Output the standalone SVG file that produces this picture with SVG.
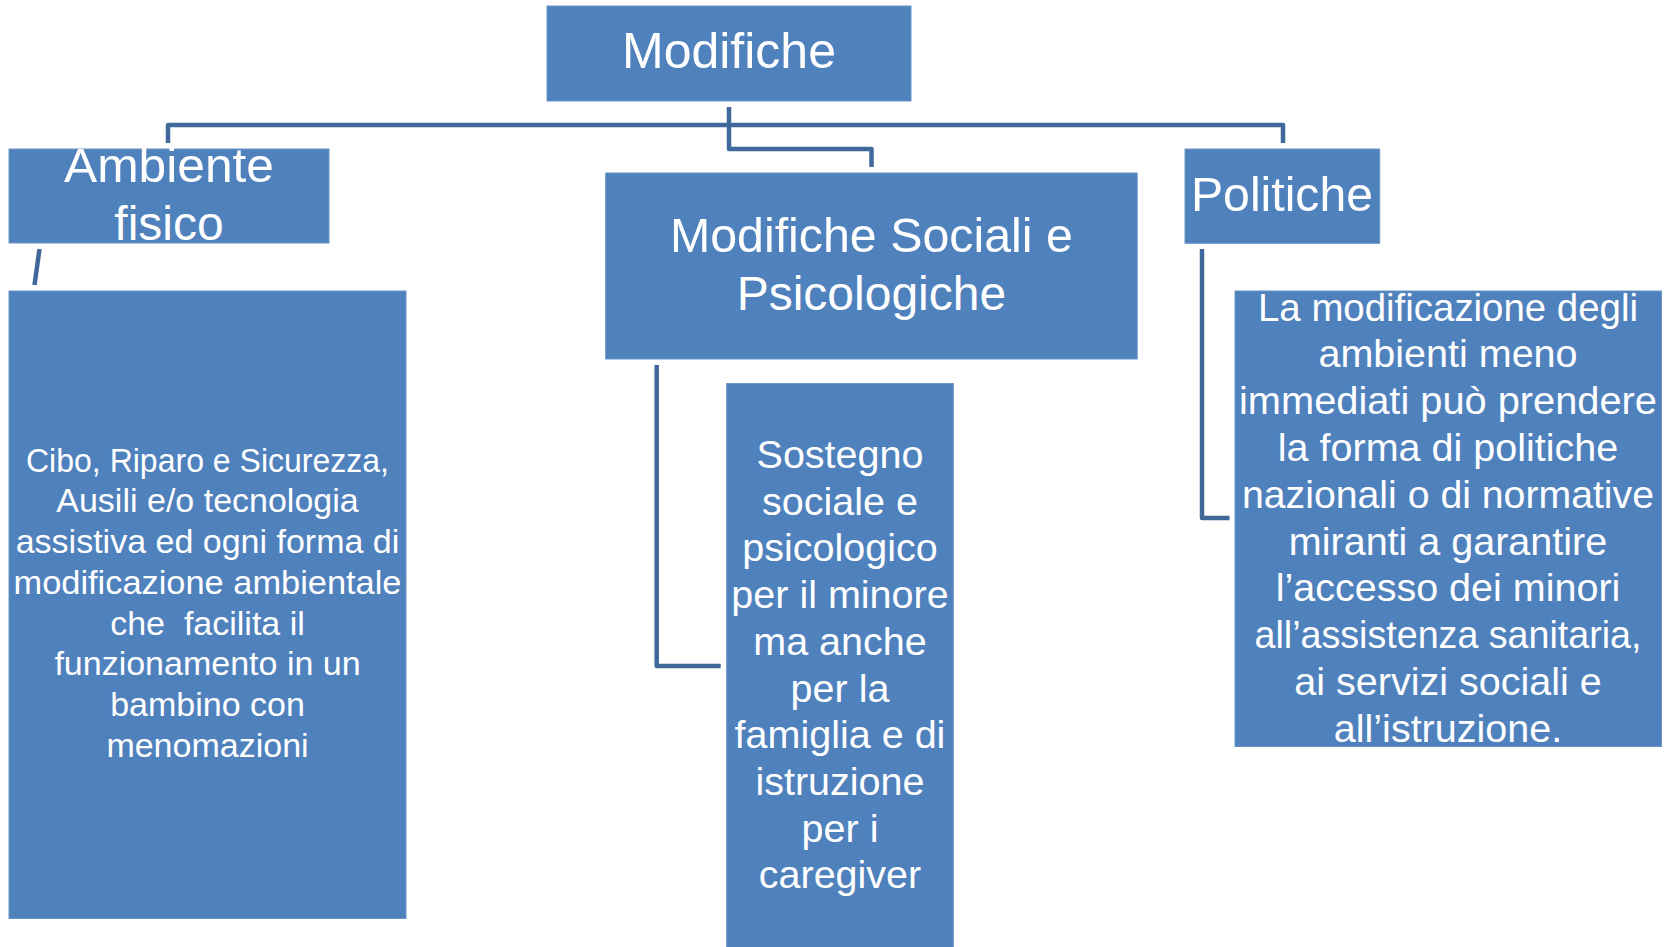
<svg xmlns="http://www.w3.org/2000/svg" width="1669" height="947" viewBox="0 0 1669 947">
<style>
.box{fill:#4F81BD;stroke:#6B95C8;stroke-width:1}
.t{fill:#FFFFFF;font-family:"Liberation Sans",Arial,sans-serif;text-anchor:middle}
.h{font-size:48px}
.b1{font-size:34px}
.b2{font-size:39.5px}
.c{fill:none;stroke:#40699B;stroke-width:4.5;stroke-linejoin:round}
</style>
<rect width="1669" height="947" fill="#FFFFFF"/>
<g id="connectors">
<path class="c" d="M168,143 V125 H1283 V143"/>
<path class="c" d="M729,107 V149 H871.5 V167"/>
<path class="c" d="M39.5,249 L34.5,285"/>
<path class="c" d="M656.7,365 V666 H720.7"/>
<path class="c" d="M1202,249 V518 H1229.5"/>
</g>
<g id="modifiche">
<rect class="box" x="547" y="6" width="364" height="95"/>
<text class="t" x="729" y="68" style="font-size:50px">Modifiche</text>
</g>
<g id="ambiente-fisico">
<rect class="box" x="9" y="149" width="320" height="94"/>
<text class="t h" x="169" y="182" textLength="210" lengthAdjust="spacingAndGlyphs">Ambiente</text>
<text class="t h" x="169" y="240">fisico</text>
</g>
<g id="modifiche-sociali">
<rect class="box" x="605.7" y="173" width="531.5" height="186"/>
<text class="t h" x="871.4" y="252" textLength="403" lengthAdjust="spacingAndGlyphs">Modifiche Sociali e</text>
<text class="t h" x="871.4" y="310">Psicologiche</text>
</g>
<g id="politiche">
<rect class="box" x="1185" y="149" width="194.7" height="94.3"/>
<text class="t h" x="1282" y="211" textLength="182" lengthAdjust="spacingAndGlyphs">Politiche</text>
</g>
<g id="ambiente-dettaglio">
<rect class="box" x="9" y="291" width="397" height="627.5"/>
<text class="t b1" x="207.5" y="471.7" textLength="363" lengthAdjust="spacingAndGlyphs">Cibo, Riparo e Sicurezza,</text>
<text class="t b1" x="207.5" y="512.4">Ausili e/o tecnologia</text>
<text class="t b1" x="207.5" y="553.1">assistiva ed ogni forma di</text>
<text class="t b1" x="207.5" y="593.8" textLength="388" lengthAdjust="spacingAndGlyphs">modificazione ambientale</text>
<text class="t b1" x="207.5" y="634.5" xml:space="preserve">che  facilita il</text>
<text class="t b1" x="207.5" y="675.2">funzionamento in un</text>
<text class="t b1" x="207.5" y="715.9">bambino con</text>
<text class="t b1" x="207.5" y="756.6">menomazioni</text>
</g>
<g id="sostegno">
<rect class="box" x="726.7" y="383.5" width="226.6" height="570"/>
<text class="t b2" x="840" y="468">Sostegno</text>
<text class="t b2" x="840" y="514.7">sociale e</text>
<text class="t b2" x="840" y="561.4">psicologico</text>
<text class="t b2" x="840" y="608.1">per il minore</text>
<text class="t b2" x="840" y="654.8">ma anche</text>
<text class="t b2" x="840" y="701.5">per la</text>
<text class="t b2" x="840" y="748.2">famiglia e di</text>
<text class="t b2" x="840" y="794.9">istruzione</text>
<text class="t b2" x="840" y="841.6">per i</text>
<text class="t b2" x="840" y="888.3">caregiver</text>
</g>
<g id="politiche-dettaglio">
<rect class="box" x="1235" y="291" width="426.5" height="455.5"/>
<text class="t b2" x="1448" y="320.5" textLength="380" lengthAdjust="spacingAndGlyphs">La modificazione degli</text>
<text class="t b2" x="1448" y="367.3">ambienti meno</text>
<text class="t b2" x="1448" y="414.1" textLength="418" lengthAdjust="spacingAndGlyphs">immediati può prendere</text>
<text class="t b2" x="1448" y="460.9">la forma di politiche</text>
<text class="t b2" x="1448" y="507.7" textLength="412" lengthAdjust="spacingAndGlyphs">nazionali o di normative</text>
<text class="t b2" x="1448" y="554.5">miranti a garantire</text>
<text class="t b2" x="1448" y="601.3">l’accesso dei minori</text>
<text class="t b2" x="1448" y="648.1" textLength="387" lengthAdjust="spacingAndGlyphs">all’assistenza sanitaria,</text>
<text class="t b2" x="1448" y="694.9">ai servizi sociali e</text>
<text class="t b2" x="1448" y="741.7">all’istruzione.</text>
</g>
</svg>
